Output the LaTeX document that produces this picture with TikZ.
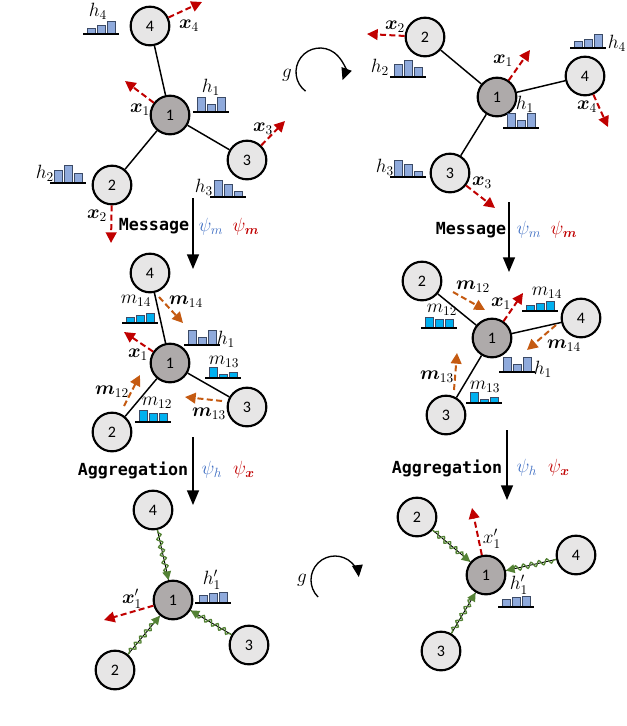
\documentclass[tikz,border=0pt]{standalone}
\usepackage{amsmath,bm}
\usepackage{fontspec}
\newfontfamily\numfont{Carlito}
\newfontfamily\codefont{DejaVu Sans Mono}
\usetikzlibrary{arrows.meta,decorations.pathmorphing}
\definecolor{nodegray}{HTML}{E7E6E6}
\definecolor{ctrgray}{HTML}{AEAAAA}
\definecolor{hfill}{HTML}{8FAADC}
\definecolor{mfill}{HTML}{00B0F0}
\definecolor{histline}{HTML}{3B4A66}
\definecolor{vecred}{HTML}{C00000}
\definecolor{msgorange}{HTML}{C55A11}
\definecolor{aggreen}{HTML}{548235}
\definecolor{psiblue}{HTML}{4472C4}
% histogram: #1,#2 left end of base line, #3 fill, #4-#6 bar heights
\newcommand{\histo}[6]{%
  \filldraw[fill=#3, draw=histline, line width=0.5pt] (#1+4,#2) rectangle ++(8,-#4);
  \filldraw[fill=#3, draw=histline, line width=0.5pt] (#1+14,#2) rectangle ++(8,-#5);
  \filldraw[fill=#3, draw=histline, line width=0.5pt] (#1+24,#2) rectangle ++(8,-#6);
  \draw[line width=1pt] (#1,#2) -- ++(36,0);}

\begin{document}
\begin{tikzpicture}[
  x=0.75pt, y=-0.75pt,
  nd/.style={circle, draw=black, line width=1.6pt, fill=nodegray,
             minimum size=29pt, inner sep=0pt,
             font=\numfont\fontsize{12}{14}\selectfont},
  ctr/.style={nd, fill=ctrgray},
  edge/.style={line width=1.1pt},
  lab/.style={inner sep=0pt, font=\fontsize{14}{16}\selectfont},
  stage/.style={inner sep=0pt, font=\codefont\bfseries\fontsize{12.5}{14}\selectfont},
  vec/.style={draw=vecred, line width=1.5pt, dash pattern=on 4.5pt off 2.5pt,
              -{Triangle[length=8pt,width=8pt]}},
  msg/.style={vec, draw=msgorange},
  agg/.style={draw=aggreen, line width=1pt, decorate,
              decoration={snake, amplitude=2pt, segment length=6pt,
                          pre length=2pt, post length=5pt},
              -{Triangle[length=6.5pt,width=6.5pt]}},
  flow/.style={line width=1pt, -{Triangle[length=11pt,width=9pt]}},
  rot/.style={line width=1pt, -{Triangle[length=9pt,width=8pt]}}
]
\useasboundingbox (0,0) rectangle (626,726);

% ---- top left: input graph
\node[ctr] (a1) at (170,115) {1};
\node[nd]  (a2) at (112,185) {2};
\node[nd]  (a3) at (247,160) {3};
\node[nd]  (a4) at (150,26)  {4};
\draw[edge] (a1) -- (a2);
\draw[edge] (a1) -- (a3);
\draw[edge] (a1) -- (a4);
\histo{83}{34}{hfill}{6}{9}{13}
\histo{193}{112}{hfill}{15}{8}{15}
\histo{50}{183}{hfill}{13}{18}{10}
\histo{210}{197}{hfill}{17}{13}{6}
\coordinate (ax1) at (125,81);
\coordinate (ax2) at (111,243);
\coordinate (ax3) at (285,121);
\coordinate (ax4) at (202,2);
\draw[vec] (a1) -- (ax1);
\draw[vec] (a2) -- (ax2);
\draw[vec] (a3) -- (ax3);
\draw[vec] (a4) -- (ax4);
\node[lab] (ah4) at (98,11)   {$h_4$};
\node[lab] (ah1) at (211,87)  {$h_1$};
\node[lab] (ah2) at (45,173)  {$h_2$};
\node[lab] (ah3) at (204,187) {$h_3$};
\node[lab] (alx4) at (189,26)  {$\bm{x}_4$};
\node[lab] (alx1) at (140,110) {$\bm{x}_1$};
\node[lab] (alx3) at (263,129) {$\bm{x}_3$};
\node[lab] (alx2) at (97,216)  {$\bm{x}_2$};

% ---- top right: rotated graph
\node[ctr] (b1) at (497,97)  {1};
\node[nd]  (b2) at (425,37)  {2};
\node[nd]  (b3) at (450,173) {3};
\node[nd]  (b4) at (585,76)  {4};
\draw[edge] (b1) -- (b2);
\draw[edge] (b1) -- (b3);
\draw[edge] (b1) -- (b4);
\histo{390}{77}{hfill}{13}{17}{10}
\histo{503}{128}{hfill}{15}{8}{15}
\histo{570}{48}{hfill}{7}{9}{14}
\histo{390}{177}{hfill}{17}{13}{6}
\coordinate (bx1) at (530,50);
\coordinate (bx2) at (367,34);
\coordinate (bx3) at (495,208);
\coordinate (bx4) at (608,127);
\draw[vec] (b1) -- (bx1);
\draw[vec] (b2) -- (bx2);
\draw[vec] (b3) -- (bx3);
\draw[vec] (b4) -- (bx4);
\node[lab] (bh2) at (380,67)  {$h_2$};
\node[lab] (bh1) at (525,104) {$h_1$};
\node[lab] (bh4) at (617,43)  {$h_4$};
\node[lab] (bh3) at (385,167) {$h_3$};
\node[lab] (blx2) at (395,27)  {$\bm{x}_2$};
\node[lab] (blx1) at (503,61)  {$\bm{x}_1$};
\node[lab] (blx4) at (587,107) {$\bm{x}_4$};
\node[lab] (blx3) at (482,183) {$\bm{x}_3$};

% ---- rotation g (top)
\coordinate (gtop) at (320,72);
\draw[rot] ([shift={(127:24)}]gtop) arc[start angle=127, end angle=380, radius=24];
\node[lab] (gt) at (287,75) {$g$};

% ---- message step
\coordinate (fa0) at (193,198);
\coordinate (fa1) at (193,269);
\draw[flow] (fa0) -- (fa1);
\node[stage] (msgl) at (154,226) {Message};
\node[lab] (psl1) at (211,227) {\color{psiblue}$\psi_m$};
\node[lab] (psl2) at (246,227) {\color{vecred}$\psi_{\bm{m}}$};
\coordinate (fb0) at (509,202);
\coordinate (fb1) at (509,272);
\draw[flow] (fb0) -- (fb1);
\node[stage] (msgr) at (471,230) {Message};
\node[lab] (psr1) at (529,230) {\color{psiblue}$\psi_m$};
\node[lab] (psr2) at (564,230) {\color{vecred}$\psi_{\bm{m}}$};

% ---- middle left: messages
\node[ctr] (c1) at (170,363) {1};
\node[nd]  (c2) at (112,432) {2};
\node[nd]  (c3) at (247,407) {3};
\node[nd]  (c4) at (150,273) {4};
\draw[edge] (c1) -- (c2);
\draw[edge] (c1) -- (c3);
\draw[edge] (c1) -- (c4);
\histo{122}{323}{mfill}{6}{8}{10}
\histo{184}{345}{hfill}{15}{8}{15}
\histo{205}{378}{mfill}{11}{4}{6}
\histo{135}{422}{mfill}{12}{9}{9}
\coordinate (cm4a) at (159,297);
\coordinate (cm4b) at (183,323);
\coordinate (cm2a) at (124,406);
\coordinate (cm2b) at (140,375);
\coordinate (cm3a) at (222,401);
\coordinate (cm3b) at (185,397);
\draw[msg] (cm4a) -- (cm4b);
\draw[msg] (cm2a) -- (cm2b);
\draw[msg] (cm3a) -- (cm3b);
\coordinate (cx1) at (124,332);
\draw[vec] (c1) -- (cx1);
\node[lab] (clm14) at (186,302) {$\bm{m}_{14}$};
\node[lab] (chm14) at (136,301) {$m_{14}$};
\node[lab] (ch1)   at (226,339) {$h_1$};
\node[lab] (clx1)  at (138,355) {$\bm{x}_1$};
\node[lab] (chm13) at (224,362) {$m_{13}$};
\node[lab] (clm12) at (112,392) {$\bm{m}_{12}$};
\node[lab] (chm12) at (157,403) {$m_{12}$};
\node[lab] (clm13) at (209,414) {$\bm{m}_{13}$};

% ---- middle right: messages
\node[ctr] (d1) at (492,338) {1};
\node[nd]  (d2) at (422,281) {2};
\node[nd]  (d3) at (446,415) {3};
\node[nd]  (d4) at (581,318) {4};
\draw[edge] (d1) -- (d2);
\draw[edge] (d1) -- (d3);
\draw[edge] (d1) -- (d4);
\histo{522}{311}{mfill}{6}{8}{10}
\histo{421}{328}{mfill}{11}{9}{9}
\histo{499}{372}{hfill}{15}{8}{15}
\histo{466}{403}{mfill}{11}{4}{6}
\coordinate (dm2a) at (453,292);
\coordinate (dm2b) at (485,310);
\coordinate (dm4a) at (556,325);
\coordinate (dm4b) at (527,350);
\coordinate (dm3a) at (454,390);
\coordinate (dm3b) at (457,353);
\draw[msg] (dm2a) -- (dm2b);
\draw[msg] (dm4a) -- (dm4b);
\draw[msg] (dm3a) -- (dm3b);
\coordinate (dx1) at (523,293);
\draw[vec] (d1) -- (dx1);
\node[lab] (dlm12) at (473,287) {$\bm{m}_{12}$};
\node[lab] (dlx1)  at (501,304) {$\bm{x}_1$};
\node[lab] (dhm14) at (547,293) {$m_{14}$};
\node[lab] (dhm12) at (442,310) {$m_{12}$};
\node[lab] (dlm14) at (564,346) {$\bm{m}_{14}$};
\node[lab] (dh1)   at (543,369) {$h_1$};
\node[lab] (dlm13) at (437,377) {$\bm{m}_{13}$};
\node[lab] (dhm13) at (485,387) {$m_{13}$};

% ---- aggregation step
\coordinate (fc0) at (193,437);
\coordinate (fc1) at (193,505);
\draw[flow] (fc0) -- (fc1);
\node[stage] (aggl) at (133,470) {Aggregation};
\node[lab] (pal1) at (212,470) {\color{psiblue}$\psi_h$};
\node[lab] (pal2) at (244,470) {\color{vecred}$\psi_{\bm{x}}$};
\coordinate (fd0) at (507,430);
\coordinate (fd1) at (507,500);
\draw[flow] (fd0) -- (fd1);
\node[stage] (aggr) at (447,468) {Aggregation};
\node[lab] (par1) at (527,468) {\color{psiblue}$\psi_h$};
\node[lab] (par2) at (559,468) {\color{vecred}$\psi_{\bm{x}}$};

% ---- bottom left: updated graph
\node[ctr] (e1) at (173,600) {1};
\node[nd]  (e2) at (115,670) {2};
\node[nd]  (e3) at (249,645) {3};
\node[nd]  (e4) at (153,510) {4};
\foreach \n in {2,3,4} {
  \draw[edge, line width=0.7pt] (e\n) -- (e1);
  \draw[agg] (e\n) -- (e1);
}
\histo{195}{603}{hfill}{8}{10}{11}
\coordinate (ex1) at (104,620);
\draw[vec] (e1) -- (ex1);
\node[lab] (elx1) at (132,599) {$\bm{x}'_1$};
\node[lab] (eh1)  at (212,580) {$h'_1$};

% ---- bottom right: updated rotated graph
\node[ctr] (f1) at (486,575) {1};
\node[nd]  (f2) at (417,517) {2};
\node[nd]  (f3) at (441,651) {3};
\node[nd]  (f4) at (576,555) {4};
\foreach \n in {2,3,4} {
  \draw[edge, line width=0.7pt] (f\n) -- (f1);
  \draw[agg] (f\n) -- (f1);
}
\histo{498}{607}{hfill}{8}{10}{11}
\coordinate (fx1) at (472,508);
\draw[vec] (f1) -- (fx1);
\node[lab] (flx1) at (492,539) {$x'_1$};
\node[lab] (fh1)  at (519,585) {$h'_1$};

% ---- rotation g (bottom)
\coordinate (gbot) at (335,580);
\draw[rot] ([shift={(135:24)}]gbot) arc[start angle=135, end angle=353, radius=24];
\node[lab] (gb) at (302,580) {$g$};
\end{tikzpicture}
\end{document}
